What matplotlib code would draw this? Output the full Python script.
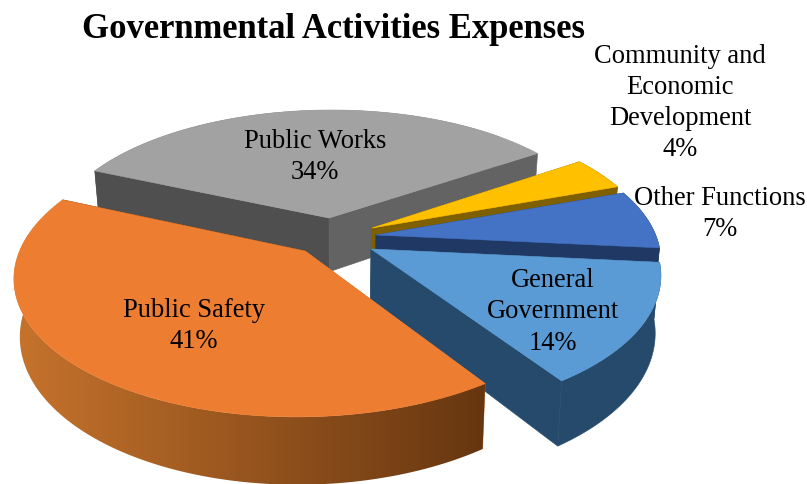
import numpy as np
import matplotlib
matplotlib.use("Agg")
import matplotlib.pyplot as plt
from matplotlib.patches import Polygon
from matplotlib.colors import to_rgb

categories = ["Other Functions", "General\nGovernment", "Public Safety", "Public Works",
              "Community and\nEconomic\nDevelopment"]
values = [7, 14, 41, 34, 4]
top_colors = ["#4472C4", "#5B9BD5", "#ED7D31", "#A2A2A2", "#FFC000"]
rim_left = ["#203864", "#264A6B", "#C9752D", "#4F4F4F", "#7F6000"]
rim_right = ["#203864", "#264A6B", "#63340F", "#636363", "#7F6000"]
face_start = ["#203864", "#264A6B", "#C9752D", "#4F4F4F", "#7F6000"]
face_end = ["#203864", "#264A6B", "#63340F", "#636363", "#7F6000"]
apex_px = [(376, 236), (371, 250), (305, 252), (329, 219), (372, 229)]
draw_order = [3, 4, 0, 1, 2]
label_pos = [(720, 214), (553, 312), (194, 326), (315, 157), (680, 103)]

CX, CY, A, B, K, DEPTH, BASE_X = 345, 237, 280, 132, 0.17, 55, 0.982
START = 5.5 - 360 * values[0] / sum(values)


def project(X, Y):
    s = 1 / (1 - K * Y)
    return CX + A * X * s, CY + B * Y * s, s


def unproject(x, y):
    q = (y - CY) / B
    Y = q / (1 + K * q)
    s = 1 / (1 - K * Y)
    return (x - CX) / (A * s), Y


def base_x(x):
    return CX + (x - CX) * BASE_X


fig = plt.figure(figsize=(8.07, 4.85), dpi=100)
ax = fig.add_axes([0, 0, 1, 1])
ax.set_xlim(0, 807)
ax.set_ylim(485, 0)
ax.axis("off")

angles = START + np.concatenate([[0], np.cumsum(values)]) * 360 / sum(values)
z = 1


def add_poly(pts, col):
    global z
    ax.add_patch(Polygon(pts, closed=True, fc=col, ec=col, lw=0.4, zorder=z))
    z += 1


def add_rim(rx, ry, rs, i):
    global z
    if len(rx) < 2:
        return
    pts = np.column_stack([np.r_[rx, base_x(rx)[::-1]], np.r_[ry, (ry + DEPTH * rs)[::-1]]])
    if rim_left[i] == rim_right[i]:
        add_poly(pts, rim_left[i])
        return
    c0, c1 = np.array(to_rgb(rim_left[i])), np.array(to_rgb(rim_right[i]))
    f = np.linspace(0, 1, 256)[None, :, None]
    grad = c0[None, None, :] + (c1 - c0)[None, None, :] * f
    poly = Polygon(pts, closed=True, fc="none", ec="none", transform=ax.transData)
    ax.add_patch(poly)
    im = ax.imshow(grad, extent=(0, 500, 485, 0), aspect="auto", zorder=z, interpolation="bilinear")
    im.set_clip_path(poly)
    z += 1
    ax.set_xlim(0, 807)
    ax.set_ylim(485, 0)


for i in draw_order:
    a0, a1 = np.radians(angles[i]), np.radians(angles[i + 1])
    ox, oy = unproject(*apex_px[i])
    t = np.linspace(a0, a1, 240)
    rx, ry, rs = project(ox + np.cos(t), oy + np.sin(t))
    px, py, ps = project(ox, oy)
    front = np.sin(t) >= 0
    add_rim(rx[~front], ry[~front], rs[~front], i)
    for j, col in ((0, face_start[i]), (-1, face_end[i])):
        add_poly([(px, py), (rx[j], ry[j]), (base_x(rx[j]), ry[j] + DEPTH * rs[j]),
                  (base_x(px), py + DEPTH * ps)], col)
    add_rim(rx[front], ry[front], rs[front], i)
    add_poly(np.column_stack([np.r_[px, rx], np.r_[py, ry]]), top_colors[i])

serif = "Liberation Serif"
for name, v, (x, y) in zip(categories, values, label_pos):
    ax.text(x, y, f"{name}\n{v}%", ha="center", va="center", family=serif, fontsize=19.1,
            color="black", linespacing=1.33, zorder=1000)
ax.text(333, 29, "Governmental Activities Expenses", ha="center", va="center",
        family=serif, fontsize=24.9, fontweight="bold", color="black", zorder=1000)

fig.savefig("out.png", dpi=100)
